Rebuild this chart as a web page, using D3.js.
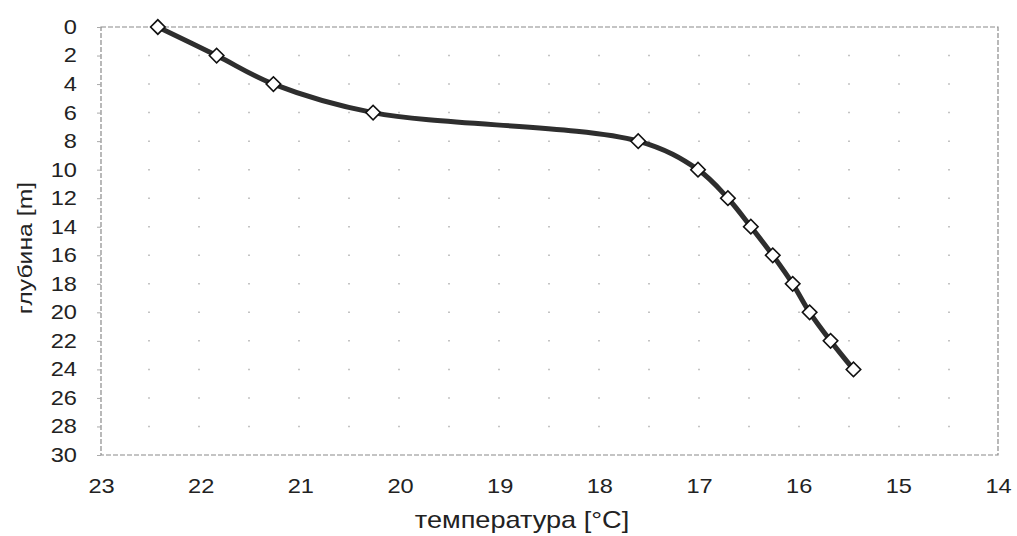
<!DOCTYPE html>
<html>
<head>
<meta charset="utf-8">
<script src="https://cdn.jsdelivr.net/npm/d3@7"></script>
<style>
  html, body { margin: 0; padding: 0; background: #fff; }
  #chart { width: 1017px; height: 536px; }
</style>
</head>
<body>
<div id="chart"></div>
<script>
// Temperature profile by depth
const depths = [0, 2, 4, 6, 8, 10, 12, 14, 16, 18, 20, 22, 24];
const temps = [22.43, 21.84, 21.27, 20.27, 17.61, 17.01, 16.71, 16.48, 16.26, 16.06, 15.89, 15.68, 15.45];
const xTicks = [23, 22, 21, 20, 19, 18, 17, 16, 15, 14];
const yTicks = [0, 2, 4, 6, 8, 10, 12, 14, 16, 18, 20, 22, 24, 26, 28, 30];
const xTitle = "температура [°C]";
const yTitle = "глубина [m]";

(function() {
  "use strict";

  const width = 1017, height = 536;
  const left = 101, right = 998, top = 27, bottom = 455;
  const stretch = 1.18; // the scanned text is wider than plain Arial
  const font = "Arial, 'Liberation Sans', sans-serif";

  const svg = d3.select("#chart").append("svg")
      .attr("width", width)
      .attr("height", height)
      .style("font-family", font);

  svg.append("rect").attr("width", width).attr("height", height).attr("fill", "#fff");

  // reversed temperature axis, depth grows downward
  const x = d3.scaleLinear().domain([23, 14]).range([left, right]);
  const y = d3.scaleLinear().domain([0, 30]).range([top, bottom]);

  // move the x attribute into a transform so the glyphs can be widened
  function widen(sel) {
    sel.each(function() {
      const t = d3.select(this);
      const tx = +t.attr("x") || 0;
      t.attr("x", 0).attr("transform", `translate(${tx},0) scale(${stretch},1)`);
    });
  }

  // sparse dotted gridlines
  svg.append("g")
    .selectAll("line")
    .data(yTicks.slice(1, -1))
    .join("line")
      .attr("x1", left).attr("x2", right)
      .attr("y1", d => y(d)).attr("y2", d => y(d))
      .attr("stroke", "#c4c4c4")
      .attr("stroke-width", 1.5)
      .attr("stroke-dasharray", "2,48")
      .attr("stroke-dashoffset", -47);

  // plot frame
  svg.append("rect")
      .attr("x", left).attr("y", top)
      .attr("width", right - left).attr("height", bottom - top)
      .attr("fill", "none")
      .attr("stroke", "#8a8a8a")
      .attr("stroke-width", 1.2)
      .attr("stroke-dasharray", "5,2");

  // y axis ticks and labels
  const yAxis = svg.append("g")
      .attr("transform", `translate(${left},0)`)
      .call(d3.axisLeft(y).tickValues(yTicks).tickSize(4).tickPadding(20).tickFormat(d3.format("d")));
  yAxis.select(".domain").remove();
  yAxis.selectAll(".tick line").attr("stroke", "#aaa");
  yAxis.selectAll(".tick text")
      .attr("font-size", 20)
      .attr("fill", "#222")
      .attr("font-family", font)
      .call(widen);

  // x axis labels
  const xAxis = svg.append("g")
      .attr("transform", `translate(0,${bottom})`)
      .call(d3.axisBottom(x).tickValues(xTicks).tickSize(0).tickPadding(24).tickFormat(d3.format("d")));
  xAxis.select(".domain").remove();
  xAxis.selectAll(".tick text")
      .attr("font-size", 20)
      .attr("fill", "#222")
      .attr("font-family", font)
      .call(widen);

  // axis titles
  svg.append("text")
      .attr("transform", `translate(522,528) scale(${stretch},1)`)
      .attr("text-anchor", "middle")
      .attr("font-size", 23)
      .attr("fill", "#222")
      .text(xTitle);

  svg.append("text")
      .attr("transform", `translate(32,248) rotate(-90) scale(${stretch},1)`)
      .attr("text-anchor", "middle")
      .attr("font-size", 21)
      .attr("fill", "#222")
      .text(yTitle);

  // smoothed profile line
  const points = depths.map((d, i) => ({depth: d, temp: temps[i]}));
  const line = d3.line()
      .x(d => x(d.temp))
      .y(d => y(d.depth))
      .curve(d3.curveCatmullRom.alpha(0.5));

  svg.append("path")
      .datum(points)
      .attr("fill", "none")
      .attr("stroke", "#2e2e2e")
      .attr("stroke-width", 5)
      .attr("stroke-linejoin", "round")
      .attr("d", line);

  // diamond markers
  svg.append("g")
    .selectAll("path")
    .data(points)
    .join("path")
      .attr("transform", d => `translate(${x(d.temp)},${y(d.depth)}) rotate(45)`)
      .attr("d", d3.symbol(d3.symbolSquare, 105))
      .attr("fill", "#fff")
      .attr("stroke", "#111")
      .attr("stroke-width", 1.6);
})();
</script>
</body>
</html>
